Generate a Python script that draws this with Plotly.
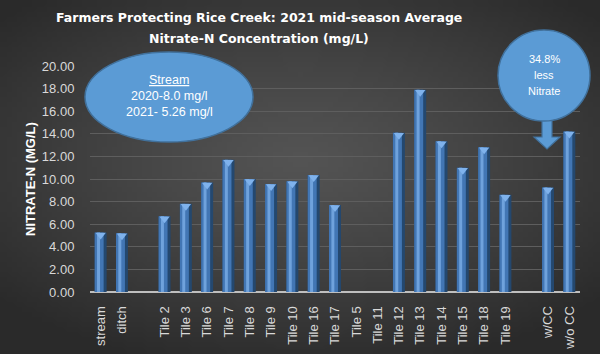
import base64, zlib, struct
import numpy as np
import plotly.graph_objects as go

categories = ["stream", "ditch", " ", "Tile 2", "Tile 3", "Tile 6", "Tile 7", "Tile 8",
              "Tile 9", "Tile 10", "Tile 16", "Tile 17", "Tile 5", "Tile 11", "Tile 12",
              "Tile 13", "Tile 14", "Tile 15", "Tile 18", "Tile 19", "  ", "w/CC", "w/o CC"]
values = [5.26, 5.2, None, 6.7, 7.8, 9.7, 11.7, 10.0,
          9.55, 9.8, 10.35, 7.7, None, None, 14.1,
          17.9, 13.35, 11.0, 12.8, 8.6, None, 9.25, 14.2]
y_ticks = [0, 2, 4, 6, 8, 10, 12, 14, 16, 18, 20]

# plot area geometry in pixels
W, H = 600, 354
L, R, T, B = 90, 20, 66, 62
PW, PH = W - L - R, H - T - B


def px(x):
    return (x - L) / PW


def py(y):
    return (H - B - y) / PH


def gradient_png(w, h):
    yy, xx = np.mgrid[0:h, 0:w]
    dx = (xx / (w - 1) - 0.5) * 2
    dy = (yy / (h - 1) - 0.45) * 2
    r = np.clip(np.sqrt(dx * dx * 0.85 + dy * dy) / 1.25, 0, 1)
    c = (84 - 42 * r ** 1.2).astype(np.uint8)
    raw = b"".join(b"\x00" + bytes(np.repeat(c[j], 3)) for j in range(h))

    def chunk(t, d):
        return struct.pack(">I", len(d)) + t + d + struct.pack(">I", zlib.crc32(t + d) & 0xffffffff)
    png = b"\x89PNG\r\n\x1a\n" + chunk(b"IHDR", struct.pack(">IIBBBBB", w, h, 8, 2, 0, 0, 0))
    png += chunk(b"IDAT", zlib.compress(raw, 9)) + chunk(b"IEND", b"")
    return "data:image/png;base64," + base64.b64encode(png).decode()


fig = go.Figure()
common = dict(x=categories, y=values, hoverinfo="skip", showlegend=False)
fig.add_trace(go.Bar(**common, width=0.56, offset=-0.28, marker=dict(color="#24486f", line_width=0)))
fig.add_trace(go.Bar(**common, width=0.42, offset=-0.28, marker=dict(color="#4276b4", line_width=0)))
fig.add_trace(go.Bar(**common, width=0.14, offset=-0.17, marker=dict(color="#6fa2dc", line_width=0)))
cap_y = [v - 0.22 if v is not None else None for v in values]
fig.add_trace(go.Scatter(x=categories, y=cap_y, mode="markers", hoverinfo="skip", showlegend=False,
                         marker=dict(symbol="triangle-down", size=9, color="#7fb2ec", line_width=0)))

blue = "#5b9bd5"
edge = "#41719c"
shapes = [
    dict(type="circle", xref="paper", yref="paper", x0=px(85), x1=px(253), y0=py(142), y1=py(52),
         fillcolor=blue, line=dict(color=edge, width=1.5), layer="above"),
    dict(type="path", xref="paper", yref="paper",
         path=f"M {px(542)},{py(118)} L {px(552)},{py(118)} L {px(552)},{py(137)} L {px(560)},{py(137)} "
              f"L {px(547)},{py(149)} L {px(534)},{py(137)} L {px(542)},{py(137)} Z",
         fillcolor=blue, line=dict(color=edge, width=1.2), layer="above"),
    dict(type="circle", xref="paper", yref="paper", x0=px(498), x1=px(590), y0=py(121), y1=py(30),
         fillcolor=blue, line=dict(color=edge, width=1.5), layer="above"),
]

annotations = [
    dict(text="Farmers Protecting Rice Creek: 2021 mid-season Average", x=px(259), y=py(18),
         font=dict(family="DejaVu Sans", size=12.5, color="white", weight="bold")),
    dict(text="Nitrate-N Concentration (mg/L)", x=px(259), y=py(38),
         font=dict(family="DejaVu Sans", size=12.5, color="white", weight="bold")),
    dict(text="NITRATE-N (MG/L)", x=px(30), y=py(179), textangle=-90,
         font=dict(family="Liberation Sans", size=13, color="white", weight="bold")),
    dict(text="<u>Stream</u>", x=px(169), y=py(80),
         font=dict(family="Liberation Sans", size=12.5, color="white")),
    dict(text="2020-8.0 mg/l", x=px(169), y=py(96),
         font=dict(family="Liberation Sans", size=12.5, color="white")),
    dict(text="2021- 5.26 mg/l", x=px(169), y=py(112),
         font=dict(family="Liberation Sans", size=12.5, color="white")),
    dict(text="34.8%", x=px(544), y=py(59), font=dict(family="Liberation Sans", size=11, color="white")),
    dict(text="less", x=px(544), y=py(75), font=dict(family="Liberation Sans", size=11, color="white")),
    dict(text="Nitrate", x=px(544), y=py(91), font=dict(family="Liberation Sans", size=11, color="white")),
]
for a in annotations:
    a.update(xref="paper", yref="paper", showarrow=False, xanchor="center", yanchor="middle")

fig.update_layout(
    width=W, height=H, margin=dict(l=L, r=R, t=T, b=B, autoexpand=False),
    paper_bgcolor="#3a3a3a", plot_bgcolor="rgba(0,0,0,0)",
    barmode="overlay", shapes=shapes, annotations=annotations,
    images=[dict(source=gradient_png(120, 71), xref="paper", yref="paper", x=px(0), y=py(0),
                 sizex=px(W) - px(0), sizey=py(0) - py(H), sizing="stretch", layer="below",
                 xanchor="left", yanchor="top")],
)
fig.update_xaxes(type="category", categoryorder="array", categoryarray=categories, automargin=False,
                 tickangle=-90, tickfont=dict(family="Liberation Sans", size=13, color="#d9d9d9"),
                 showgrid=False, showline=False, ticks="outside", ticklen=8, tickcolor="rgba(0,0,0,0)",
                 range=[-0.5, len(categories) - 0.5])
fig.update_yaxes(range=[0, 20], tickvals=y_ticks, ticktext=[f"{v:.2f}" for v in y_ticks], automargin=False,
                 tickfont=dict(family="Liberation Sans", size=13, color="#d9d9d9"),
                 showgrid=True, gridcolor="#5e5e5e", gridwidth=1,
                 zeroline=True, zerolinecolor="#bfbfbf", zerolinewidth=2,
                 ticks="outside", ticklen=12, tickcolor="rgba(0,0,0,0)")

fig.write_html("out.html")
